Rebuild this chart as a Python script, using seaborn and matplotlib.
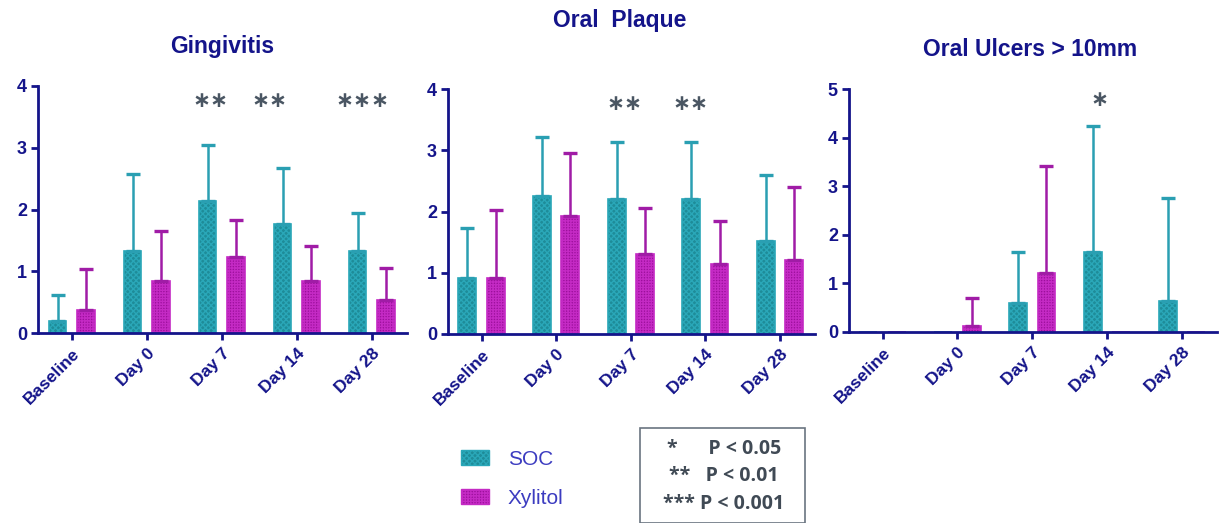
import numpy as np
import pandas as pd
import matplotlib
matplotlib.use("Agg")
import matplotlib.pyplot as plt
from matplotlib.patches import Patch, Rectangle
import seaborn as sns

# ---- data ----
days = ["Baseline", "Day 0", "Day 7", "Day 14", "Day 28"]
groups = ["SOC", "Xylitol"]

ging_soc = [0.20, 1.32, 2.13, 1.76, 1.32]
ging_soc_sd = [0.41, 1.25, 0.92, 0.91, 0.63]
ging_xyl = [0.37, 0.85, 1.23, 0.85, 0.54]
ging_xyl_sd = [0.66, 0.80, 0.60, 0.56, 0.52]

plaq_soc = [0.91, 2.26, 2.20, 2.20, 1.52]
plaq_soc_sd = [0.82, 0.96, 0.94, 0.94, 1.07]
plaq_xyl = [0.91, 1.92, 1.30, 1.14, 1.21]
plaq_xyl_sd = [1.12, 1.04, 0.75, 0.70, 1.19]

ulc_soc = [0.00, 0.00, 0.59, 1.64, 0.64]
ulc_soc_sd = [0.00, 0.00, 1.06, 2.59, 2.11]
ulc_xyl = [0.00, 0.13, 1.22, 0.00, 0.00]
ulc_xyl_sd = [0.00, 0.56, 2.20, 0.00, 0.00]

ging_stars = {"Day 7": "**", "Day 14": "**", "Day 28": "***"}
plaq_stars = {"Day 7": "**", "Day 14": "**"}
ulc_stars = {"Day 14": "*"}

titles = ["Gingivitis", "Oral  Plaque", "Oral Ulcers > 10mm"]
p_labels = ["*      P < 0.05", "**   P < 0.01", "*** P < 0.001"]

# ---- style ----
sns.set_style("white")
plt.rcParams["font.family"] = ["Liberation Sans", "DejaVu Sans"]

NAVY = "#14148a"
TEAL = "#1e8c99"
TEAL_LIGHT = "#2aa7b8"
PURP = "#9c0f9c"
PURP_LIGHT = "#c42ac4"
ERR_TEAL = "#2a9fb2"
ERR_PURP = "#a01ca6"
STAR = "#4a5663"

W, H = 1222, 523
fig = plt.figure(figsize=(W / 100, H / 100), dpi=100)


def px_axes(left, right, top, bottom):
    return fig.add_axes([left / W, 1 - bottom / H, (right - left) / W, (bottom - top) / H])


panels = [
    dict(rect=(38, 407, 86, 333), ymax=4, soc=ging_soc, soc_sd=ging_soc_sd,
         xyl=ging_xyl, xyl_sd=ging_xyl_sd, stars=ging_stars, star_y=3.76,
         star_dx={"Day 7": -0.15, "Day 14": -0.37, "Day 28": -0.13},
         title_xy=(222, 47)),
    dict(rect=(448, 815, 89, 334), ymax=4, soc=plaq_soc, soc_sd=plaq_soc_sd,
         xyl=plaq_xyl, xyl_sd=plaq_xyl_sd, stars=plaq_stars, star_y=3.76,
         star_dx={"Day 7": -0.08, "Day 14": -0.2},
         title_xy=(620, 20)),
    dict(rect=(849, 1217, 89, 332), ymax=5, soc=ulc_soc, soc_sd=ulc_soc_sd,
         xyl=ulc_xyl, xyl_sd=ulc_xyl_sd, stars=ulc_stars, star_y=4.77,
         star_dx={"Day 14": -0.1},
         title_xy=(1030, 50)),
]

for i, p in enumerate(panels):
    ax = px_axes(*p["rect"])
    df = pd.DataFrame({
        "day": days * 2,
        "group": [groups[0]] * len(days) + [groups[1]] * len(days),
        "score": list(p["soc"]) + list(p["xyl"]),
    })
    sns.barplot(data=df, x="day", y="score", hue="group", order=days,
                hue_order=groups, palette=[TEAL, PURP], width=0.76, gap=0.37,
                errorbar=None, legend=False, saturation=1, ax=ax)

    sds = [p["soc_sd"], p["xyl_sd"]]
    edge_cols = [TEAL_LIGHT, PURP_LIGHT]
    err_cols = [ERR_TEAL, ERR_PURP]
    hatches = ["xxxxxx", "++++++"]
    bar_conts = list(ax.containers)
    for k, cont in enumerate(bar_conts):
        xs, hs, es = [], [], []
        for bar, sd in zip(cont.patches, sds[k]):
            bar.set_edgecolor(edge_cols[k])
            bar.set_linewidth(1.2)
            bar.set_hatch(hatches[k])
            try:
                bar.set_hatchcolor(edge_cols[k])
            except AttributeError:
                pass
            if sd > 0:
                xs.append(bar.get_x() + bar.get_width() / 2)
                hs.append(bar.get_height())
                es.append(sd)
        if xs:
            ax.errorbar(xs, hs, yerr=[np.zeros(len(es)), es], fmt="none",
                        ecolor=err_cols[k], elinewidth=1.8, capsize=5,
                        capthick=2.4, zorder=1)

    for day, s in p["stars"].items():
        xi = days.index(day) + p["star_dx"][day]
        ax.text(xi, p["star_y"], "\u2217" * len(s), ha="center",
                va="center", fontsize=15.5, color=STAR, fontweight="bold",
                family=["DejaVu Sans"])

    ax.set_xlim(-0.45, 4.47)
    ax.set_ylim(0, p["ymax"])
    ax.set_yticks(range(p["ymax"] + 1))
    ax.set_xlabel("")
    ax.set_ylabel("")
    ax.set_xticks(range(len(days)))
    ax.set_xticklabels(days, rotation=45, ha="right", rotation_mode="anchor",
                       fontsize=12.5, fontweight="bold", color=NAVY)
    for lab in ax.get_yticklabels():
        lab.set_fontsize(13)
        lab.set_fontweight("bold")
        lab.set_color(NAVY)
    for side in ["top", "right"]:
        ax.spines[side].set_visible(False)
    for side in ["left", "bottom"]:
        ax.spines[side].set_color(NAVY)
        ax.spines[side].set_linewidth(2)
    ax.tick_params(axis="both", which="both", direction="out", length=5,
                   width=2, color=NAVY, left=True, bottom=True)
    ax.tick_params(axis="x", pad=4)
    ax.tick_params(axis="y", pad=3)
    ax.set_facecolor("white")

    tx, ty = p["title_xy"]
    fig.text(tx / W, 1 - ty / H, titles[i], ha="center", va="center",
             fontsize=16.5, fontweight="bold", color=NAVY)

# ---- legend ----
handles = [Patch(facecolor=TEAL, edgecolor=TEAL_LIGHT, hatch="xxxxxx"),
           Patch(facecolor=PURP, edgecolor=PURP_LIGHT, hatch="++++++")]
fig.legend(handles, groups, loc="center left",
           bbox_to_anchor=(442 / W, 1 - 479 / H), frameon=False,
           fontsize=15, labelcolor="#3c3cc0", handlelength=1.35,
           handleheight=0.75, labelspacing=0.95, handletextpad=0.9)

# ---- significance key ----
fig.add_artist(Rectangle((640 / W, 0), (805 - 640) / W, (523 - 428) / H,
                         transform=fig.transFigure, fill=False,
                         edgecolor="#6a7480", linewidth=1.2))
for j, (lab, yy) in enumerate(zip(p_labels, [449, 476, 504])):
    fig.text(724 / W, 1 - yy / H, lab, ha="center", va="center",
             fontsize=14, fontweight="bold", color="#404a55",
             family=["Open Sans", "DejaVu Sans"])

fig.savefig("out.png", dpi=100, facecolor="white")
